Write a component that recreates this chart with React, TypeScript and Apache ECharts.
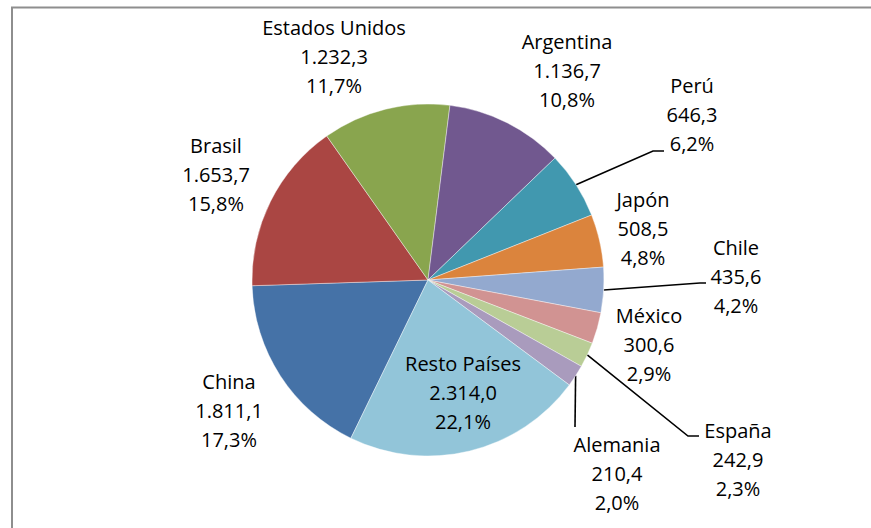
import React, { useEffect, useRef } from "react";
import * as echarts from "echarts";

const categories = [
  "China",
  "Brasil",
  "Estados Unidos",
  "Argentina",
  "Perú",
  "Japón",
  "Chile",
  "México",
  "España",
  "Alemania",
  "Resto Países",
];
const values = [1811.1, 1653.7, 1232.3, 1136.7, 646.3, 508.5, 435.6, 300.6, 242.9, 210.4, 2314.0];
const colors = [
  "#4572A7",
  "#AA4643",
  "#89A54E",
  "#71588F",
  "#4198AF",
  "#DB843D",
  "#93A9CF",
  "#D19392",
  "#B9CD96",
  "#A99BBD",
  "#92C5D9",
];
// label anchor (text block center) positions and leader-line bends
const labelPos: [number, number][] = [
  [229, 410],
  [216, 174],
  [334, 56],
  [567, 70],
  [692, 114],
  [643, 228],
  [736, 276],
  [649, 344],
  [738, 459],
  [617, 473],
  [463, 392],
];
const leaderLines: ([number, number][] | null)[] = [
  null,
  null,
  null,
  null,
  [[653, 151], [664, 151]],
  null,
  [[700, 283], [706, 283]],
  null,
  [[688, 436], [699, 436]],
  [[575, 427]],
  null,
];

const fmtNum = (v: number) => {
  const [i, d] = v.toFixed(1).split(".");
  return i.replace(/\B(?=(\d{3})+(?!\d))/g, ".") + "," + d;
};

export default function App() {
  const ref = useRef<HTMLDivElement>(null);
  useEffect(() => {
    if (!ref.current) return;
    const chart = echarts.init(ref.current, undefined, { renderer: "svg" });
    const total = values.reduce((a, b) => a + b, 0);
    chart.setOption({
      animation: false,
      backgroundColor: "#ffffff",
      graphic: [
        {
          type: "rect",
          shape: { x: 12, y: 7.5, width: 900, height: 600 },
          style: { fill: "none", stroke: "#8e8e8e", lineWidth: 2 },
          silent: true,
        },
      ],
      series: [
        {
          type: "pie",
          center: [428, 280],
          radius: [0, 176],
          startAngle: 244,
          clockwise: true,
          avoidLabelOverlap: false,
          data: categories.map((name, i) => ({
            name,
            value: values[i],
            itemStyle: { color: colors[i] },
            labelLine: { show: leaderLines[i] !== null },
          })),
          itemStyle: { borderColor: "rgba(255,255,255,0.5)", borderWidth: 0.8 },
          label: {
            show: true,
            position: "outside",
            color: "#000",
            fontFamily: "Open Sans",
            fontSize: 20,
            lineHeight: 29,
            align: "center",
            formatter: (p: any) =>
              p.name + "\n" + fmtNum(p.value) + "\n" + (p.value / total * 100).toFixed(1).replace(".", ",") + "%",
          },
          labelLine: {
            show: true,
            lineStyle: { color: "#000", width: 1.6 },
          },
          labelLayout: (params: any) => {
            const i = params.dataIndex;
            const pos = labelPos[i];
            const res: any = { x: pos[0], y: pos[1], align: "center", verticalAlign: "middle" };
            const ll = leaderLines[i];
            if (ll && params.labelLinePoints && params.labelLinePoints[0]) {
              const start = params.labelLinePoints[0];
              const pts = [start, ...ll];
              if (pts.length === 2) pts.push(ll[0]);
              res.labelLinePoints = pts;
            }
            return res;
          },
        },
      ],
    });
    return () => chart.dispose();
  }, []);
  return <div ref={ref} style={{ position: "absolute", left: 0, top: 0, width: 871, height: 528 }} />;
}
